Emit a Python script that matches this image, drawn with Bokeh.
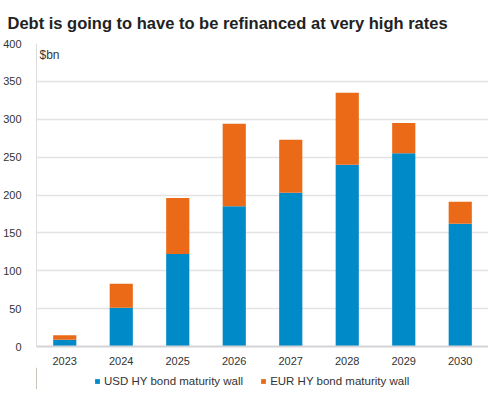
from bokeh.plotting import figure
from bokeh.layouts import column
from bokeh.models import Legend, LegendItem, Label, Range1d, FactorRange, ColumnDataSource
from bokeh.embed import file_html
from bokeh.resources import INLINE

title_text = "Debt is going to have to be refinanced at very high rates"
years = ["2023", "2024", "2025", "2026", "2027", "2028", "2029", "2030"]
usd = [9, 51, 122, 185, 203, 240, 255, 162]
eur = [6, 32, 74, 109, 70, 95, 40, 29]
y_ticks = [0, 50, 100, 150, 200, 250, 300, 350, 400]
series_labels = ["USD HY bond maturity wall", "EUR HY bond maturity wall"]

BLUE = "#008AC8"
ORANGE = "#EB6A18"
FONT = "Liberation Sans"
TXT = "#333333"

source = ColumnDataSource(dict(year=years, usd=usd, eur=eur))

p = figure(x_range=FactorRange(*years), y_range=Range1d(0, 400),
           width=488, height=367, output_backend="svg", toolbar_location=None,
           min_border_left=0, min_border_right=0, min_border_top=0, min_border_bottom=0)

r = p.vbar_stack(["usd", "eur"], x="year", width=0.41, source=source,
                 color=[BLUE, ORANGE], line_color=None)

p.title.text = title_text
p.title.text_font = FONT
p.title.text_font_size = "16.5px"
p.title.text_font_style = "bold"
p.title.text_color = "#222222"
p.title.offset = -29
p.title.standoff = 23

p.outline_line_color = None
p.x_range.range_padding = 0
p.xgrid.grid_line_color = None
p.ygrid.grid_line_color = "#e3e3e3"
p.ygrid.grid_line_width = 1.5
p.yaxis.ticker = y_ticks
p.yaxis.axis_line_color = "#dddddd"
p.yaxis.major_tick_line_color = None
p.yaxis.minor_tick_line_color = None
p.yaxis.major_label_text_font = FONT
p.yaxis.major_label_text_font_size = "11px"
p.yaxis.major_label_text_color = TXT
p.yaxis.major_label_standoff = 9
p.xaxis.axis_line_color = "#d4d4d8"
p.xaxis.axis_line_width = 2
p.xaxis.major_tick_line_color = None
p.xaxis.minor_tick_line_color = None
p.xaxis.major_label_text_font = FONT
p.xaxis.major_label_text_font_size = "11px"
p.xaxis.major_label_text_color = TXT
p.xaxis.major_label_standoff = 4

p.add_layout(Label(x=3, y=400, x_units="screen", y_offset=-4, text="$bn",
                   text_font=FONT, text_font_size="12px", text_color=TXT,
                   text_baseline="top"))

# legend strip below the chart (swatches come from off-screen proxy renderers)
lf = figure(width=488, height=22, output_backend="svg", toolbar_location=None,
            x_axis_type=None, y_axis_type=None, x_range=Range1d(0, 1), y_range=Range1d(0, 1),
            min_border_left=0, min_border_right=0, min_border_top=0, min_border_bottom=0)
lf.outline_line_color = None
lf.xgrid.grid_line_color = None
lf.ygrid.grid_line_color = None
d1 = lf.vbar(x=[-5], top=[1], width=0.1, color=BLUE, line_color=None)
d2 = lf.vbar(x=[-5], top=[1], width=0.1, color=ORANGE, line_color=None)
legend = Legend(items=[LegendItem(label=series_labels[0], renderers=[d1]),
                       LegendItem(label=series_labels[1], renderers=[d2])],
                orientation="horizontal", location=(58, 2),
                label_text_font=FONT, label_text_font_size="11.5px", label_text_color=TXT,
                glyph_width=6, glyph_height=6, label_standoff=4, spacing=17,
                border_line_color=None, background_fill_alpha=0, margin=0, padding=0,
                label_height=13)
lf.add_layout(legend)

layout = column(p, lf, spacing=0)
open("out.html", "w").write(file_html(layout, INLINE))
